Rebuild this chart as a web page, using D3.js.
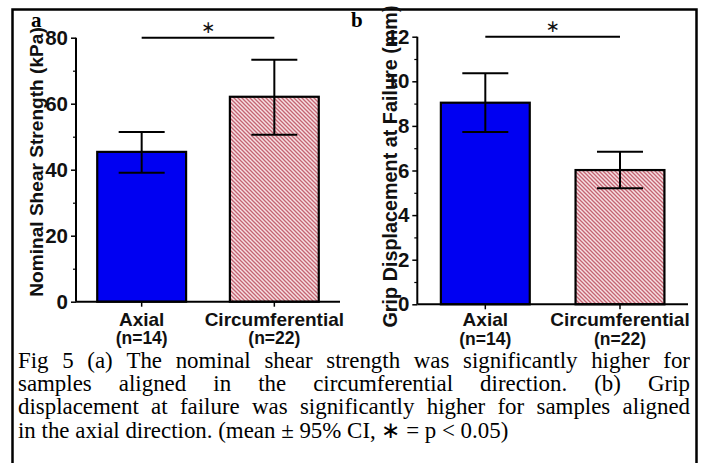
<!DOCTYPE html>
<html><head><meta charset="utf-8">
<script src="https://cdn.jsdelivr.net/npm/d3@7"></script>
<style>
html,body{margin:0;padding:0;background:#fff;}
svg{display:block;}
</style></head>
<body>
<script>
const categories = ["Axial", "Circumferential"];
const nLabels = ["(n=14)", "(n=22)"];
const shearMean = [45.4, 62.1];
const shearLow = [39.1, 50.6];
const shearHigh = [51.4, 73.3];
const gripMean = [9.04, 6.02];
const gripLow = [7.73, 5.2];
const gripHigh = [10.36, 6.84];
const ticksA = [0, 20, 40, 60, 80];
const minorA = [10, 30, 50, 70];
const ticksB = [0, 2, 4, 6, 8, 10, 12];
const minorB = [1, 3, 5, 7, 9, 11];
const sigA = 80, sigB = 12;
const captionLines = [
  "Fig 5 (a) The nominal shear strength was significantly higher for",
  "samples aligned in the circumferential direction. (b) Grip",
  "displacement at failure was significantly higher for samples aligned",
  "in the axial direction. (mean \u00b1 95% CI, \u2217 = p < 0.05)"
];

const W = 704, H = 463;
const svg = d3.select("body").append("svg").attr("width", W).attr("height", H);

const defs = svg.append("defs");
const pat = defs.append("pattern").attr("id", "hatch").attr("patternUnits", "userSpaceOnUse")
  .attr("width", 4).attr("height", 4);
pat.append("rect").attr("width", 4).attr("height", 4).attr("fill", "#f6dfe2");
pat.append("path").attr("d", "M-1,-1 L5,5 M-1,3 L1,5 M3,-1 L5,1")
  .attr("stroke", "#c46472").attr("stroke-width", 1.3);

// frame
svg.append("path").attr("d", "M12.5,470 V9.5 H696.5 V470")
  .attr("fill", "none").attr("stroke", "#000").attr("stroke-width", 2.5);

const sans = "'Liberation Sans', Arial, sans-serif";
const serif = "'Liberation Serif', 'Times New Roman', serif";

function panel(cfg) {
  const g = svg.append("g");
  const x = d3.scaleBand().domain(categories).range(cfg.xr)
    .paddingInner(cfg.pi).paddingOuter(cfg.po);
  const y = d3.scaleLinear().domain(cfg.yd).range(cfg.yr);

  // bars
  g.selectAll("rect.bar").data(categories).join("rect")
    .attr("x", d => x(d)).attr("width", x.bandwidth())
    .attr("y", (d, i) => y(cfg.mean[i])).attr("height", (d, i) => y(0) - y(cfg.mean[i]))
    .attr("fill", (d, i) => i === 0 ? "#0000f2" : "url(#hatch)")
    .attr("stroke", "#000").attr("stroke-width", 2.2);

  // error bars
  const cap = 46;
  categories.forEach((c, i) => {
    const cx = x(c) + x.bandwidth() / 2;
    g.append("line").attr("x1", cx).attr("x2", cx).attr("y1", y(cfg.low[i])).attr("y2", y(cfg.high[i]))
      .attr("stroke", "#000").attr("stroke-width", 2);
    [cfg.low[i], cfg.high[i]].forEach(v => {
      g.append("line").attr("x1", cx - cap / 2).attr("x2", cx + cap / 2).attr("y1", y(v)).attr("y2", y(v))
        .attr("stroke", "#000").attr("stroke-width", 2);
    });
  });

  // y axis
  const ya = g.append("g").attr("transform", `translate(${cfg.xr[0]},0)`)
    .call(d3.axisLeft(y).tickValues(cfg.ticks).tickSize(5).tickPadding(3).tickFormat(d3.format("d")));
  ya.select(".domain").attr("stroke-width", 2).attr("d", `M0,${y(0)}V${cfg.yr[1]}`);
  ya.selectAll(".tick line").attr("stroke-width", 1.5);
  ya.selectAll(".tick text").attr("font-family", sans).attr("font-weight", "bold")
    .attr("font-size", 20.5).attr("fill", "#111");
  const ym = g.append("g").attr("transform", `translate(${cfg.xr[0]},0)`)
    .call(d3.axisLeft(y).tickValues(cfg.minor).tickSize(3).tickFormat(""));
  ym.select(".domain").remove();
  ym.selectAll(".tick line").attr("stroke-width", 1.2);

  // x axis
  const xa = g.append("g").attr("transform", `translate(0,${y(0)})`)
    .call(d3.axisBottom(x).tickSize(5).tickFormat(""));
  xa.select(".domain").attr("stroke-width", 2).attr("d", `M${cfg.xr[0]},0H${cfg.xr[1]}`);
  xa.selectAll(".tick line").attr("stroke-width", 1.5);

  // category labels
  categories.forEach((c, i) => {
    const cx = x(c) + x.bandwidth() / 2;
    g.append("text").attr("x", cx).attr("y", y(0) + cfg.lab1).attr("text-anchor", "middle")
      .attr("font-family", sans).attr("font-weight", "bold").attr("font-size", 19).attr("fill", "#111")
      .text(c);
    g.append("text").attr("x", cx).attr("y", y(0) + cfg.lab2[i]).attr("text-anchor", "middle")
      .attr("font-family", sans).attr("font-weight", "bold").attr("font-size", 17.5).attr("fill", "#111")
      .text(nLabels[i]);
  });

  // y title
  g.append("text").attr("transform", `translate(${cfg.titleX},${cfg.titleY}) rotate(-90)`)
    .attr("text-anchor", "middle").attr("font-family", sans).attr("font-weight", "bold")
    .attr("font-size", cfg.titleSize).attr("fill", "#111").text(cfg.title);

  // significance
  const c0 = x(categories[0]) + x.bandwidth() / 2, c1 = x(categories[1]) + x.bandwidth() / 2;
  g.append("line").attr("x1", c0).attr("x2", c1).attr("y1", y(cfg.sig)).attr("y2", y(cfg.sig))
    .attr("stroke", "#000").attr("stroke-width", 2);
  g.append("text").attr("x", (c0 + c1) / 2).attr("y", y(cfg.sig) - 4.5).attr("text-anchor", "middle")
    .attr("font-family", "'DejaVu Sans', sans-serif").attr("font-size", 17).attr("fill", "#111").text("\u2217");

  // panel letter
  g.append("text").attr("x", cfg.letterX).attr("y", 27).attr("font-family", serif)
    .attr("font-weight", "bold").attr("font-size", 21).attr("fill", "#000").text(cfg.letter);
}

panel({ xr: [76, 340], pi: 0.33, po: 0.16, yd: [0, 80], yr: [301.7, 37.7],
  mean: shearMean, low: shearLow, high: shearHigh, ticks: ticksA, minor: minorA, sig: sigA,
  title: "Nominal Shear Strength (kPa)", titleX: 43, titleY: 162, titleSize: 19.1,
  letter: "a", letterX: 31, lab1: 24, lab2: [42.5, 42.5] });

panel({ xr: [417.3, 688], pi: 0.34, po: 0.175, yd: [0, 12], yr: [304.3, 36.7],
  mean: gripMean, low: gripLow, high: gripHigh, ticks: ticksB, minor: minorB, sig: sigB,
  title: "Grip Displacement at Failure (mm)", titleX: 396.5, titleY: 166.5, titleSize: 19.8,
  letter: "b", letterX: 351, lab1: 22, lab2: [40.5, 40.5] });

// caption (justified)
const capG = svg.append("g");
const left = 18, right = 690, fs = 22.9;
const baselines = [368, 391.2, 414.4, 437.6];
captionLines.forEach((line, li) => {
  const words = line.split(" ");
  if (li === captionLines.length - 1) {
    capG.append("text").attr("x", left).attr("y", baselines[li]).attr("font-family", serif)
      .attr("font-size", fs).attr("fill", "#000").style("white-space", "pre").text(line);
    return;
  }
  const nodes = words.map(w => capG.append("text").attr("y", baselines[li]).attr("font-family", serif)
    .attr("font-size", fs).attr("fill", "#000").text(w));
  const widths = nodes.map(n => n.node().getComputedTextLength());
  const total = d3.sum(widths);
  const gap = (right - left - total) / (words.length - 1);
  let cx = left;
  nodes.forEach((n, i) => { n.attr("x", cx); cx += widths[i] + gap; });
});
</script>
</body></html>
